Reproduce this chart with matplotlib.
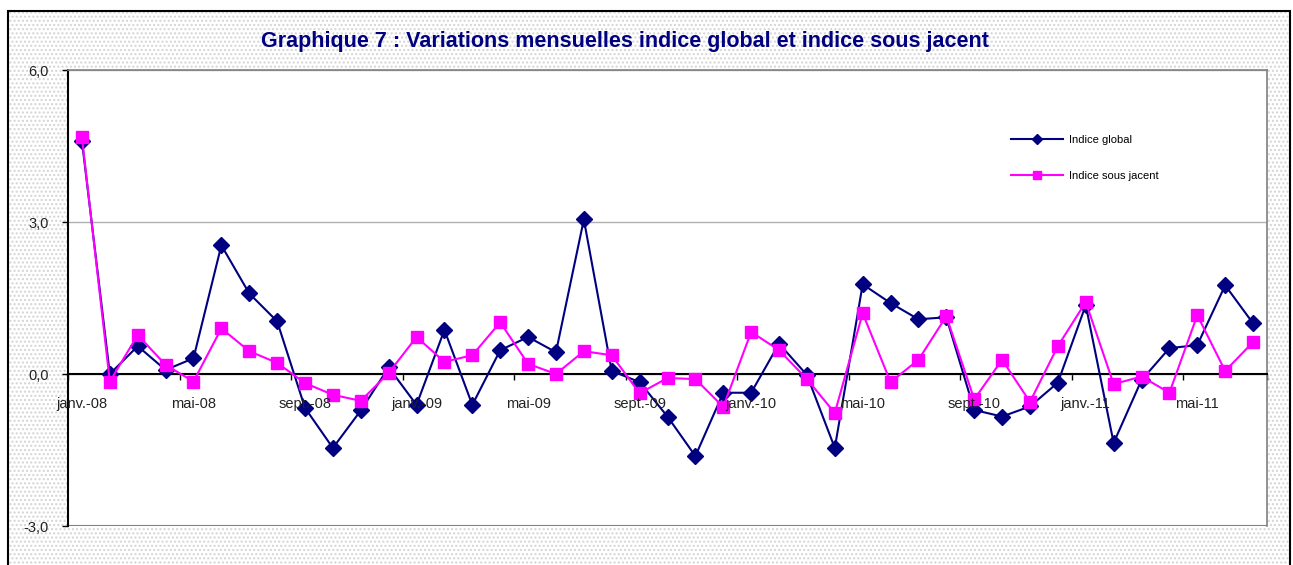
import matplotlib.pyplot as plt
from matplotlib.patches import Rectangle

plt.rcParams["font.family"] = ["Liberation Sans", "DejaVu Sans"]

# Monthly changes, janv.-08 to juil.-11
mois = ["janv.", "févr.", "mars", "avr.", "mai", "juin", "juil.", "août",
        "sept.", "oct.", "nov.", "déc."]
annees = ["08", "09", "10", "11"]
categories = [f"{m}-{a}" for a in annees for m in mois][:43]

indice_global = [4.6, 0.0, 0.55, 0.08, 0.31, 2.54, 1.59, 1.04, -0.67, -1.46,
                 -0.72, 0.13, -0.61, 0.87, -0.61, 0.47, 0.73, 0.43, 3.05, 0.06,
                 -0.16, -0.84, -1.62, -0.37, -0.37, 0.6, -0.02, -1.46, 1.77, 1.4,
                 1.08, 1.12, -0.71, -0.84, -0.64, -0.17, 1.36, -1.36, -0.12, 0.51,
                 0.57, 1.75, 1.0]
indice_sous_jacent = [4.67, -0.15, 0.77, 0.18, -0.15, 0.9, 0.45, 0.22, -0.18, -0.41,
                      -0.53, 0.02, 0.73, 0.24, 0.37, 1.02, 0.2, 0.0, 0.45, 0.37,
                      -0.38, -0.08, -0.1, -0.65, 0.83, 0.47, -0.1, -0.77, 1.2, -0.16,
                      0.28, 1.14, -0.5, 0.28, -0.55, 0.55, 1.42, -0.2, -0.05, -0.37,
                      1.16, 0.06, 0.63]

fig = plt.figure(figsize=(12.93, 5.65), dpi=100)
fig.patch.set_facecolor("white")

# dotted chart background with black frame
bg = Rectangle((8 / 1293, -0.05), (1290 - 8) / 1293, 1 - 11 / 565 + 0.05,
               transform=fig.transFigure, facecolor="white", edgecolor="#d4d4d4",
               hatch="....", linewidth=0, zorder=-2)
fig.patches.append(bg)
frame = Rectangle((8 / 1293, -0.05), (1290 - 8) / 1293, 1 - 11 / 565 + 0.05,
                  transform=fig.transFigure, facecolor="none", edgecolor="black",
                  linewidth=1.5, zorder=-1)
fig.patches.append(frame)

ax = fig.add_axes([68 / 1293, 1 - 526 / 565, (1267 - 68) / 1293, (526 - 70) / 565])
ax.set_zorder(2)
ax.set_facecolor("white")

x = list(range(len(categories)))
ax.plot(x, indice_global, color="#000080", linewidth=1.5, marker="D",
        markersize=8, label="Indice global", zorder=3)
ax.plot(x, indice_sous_jacent, color="#FF00FF", linewidth=1.5, marker="s",
        markersize=8.5, label="Indice sous jacent", zorder=4)

ax.set_xlim(-0.5, len(categories) - 0.5)
ax.set_ylim(-3, 6)
ax.set_yticks([-3, 0, 3, 6])
ax.set_yticklabels(["-3,0", "0,0", "3,0", "6,0"], fontsize=10.5, color="#222222")
ax.yaxis.grid(True, color="#b0b0b0", linewidth=1)
ax.set_axisbelow(True)

# x axis crossing at zero, labels every 4 months
ax.spines["bottom"].set_position(("data", 0))
ax.spines["bottom"].set_color("black")
ax.spines["bottom"].set_linewidth(1.5)
ax.spines["left"].set_linewidth(1.5)
ax.spines["top"].set_color("#808080")
ax.spines["right"].set_color("#808080")
ax.spines["top"].set_linewidth(1.2)
ax.spines["right"].set_linewidth(1.2)
ax.axhline(-3, color="#808080", linewidth=1.5, zorder=2)

ax.set_xticks([i - 0.5 for i in range(0, len(categories), 4)] + [len(categories) - 0.5])
ax.set_xticklabels([])
ax.tick_params(axis="x", length=4, width=1, direction="out")
ax.tick_params(axis="y", length=4, width=1, direction="out", pad=10)
for i in range(0, len(categories), 4):
    ax.text(i, -0.6, categories[i], ha="center", va="center", fontsize=10.5,
            color="#222222", zorder=5)

ax.legend(loc="center left", bbox_to_anchor=(0.7785, 0.807), frameon=False,
          fontsize=8, markerscale=0.6, handlelength=4.6, handletextpad=0.6,
          labelspacing=2.4)

fig.text(625 / 1293, 1 - 41 / 565,
         "Graphique 7 : Variations mensuelles indice global et indice sous jacent",
         ha="center", va="center", fontsize=15.5, fontweight="bold", color="#000080")

fig.savefig("out.png", dpi=100)
